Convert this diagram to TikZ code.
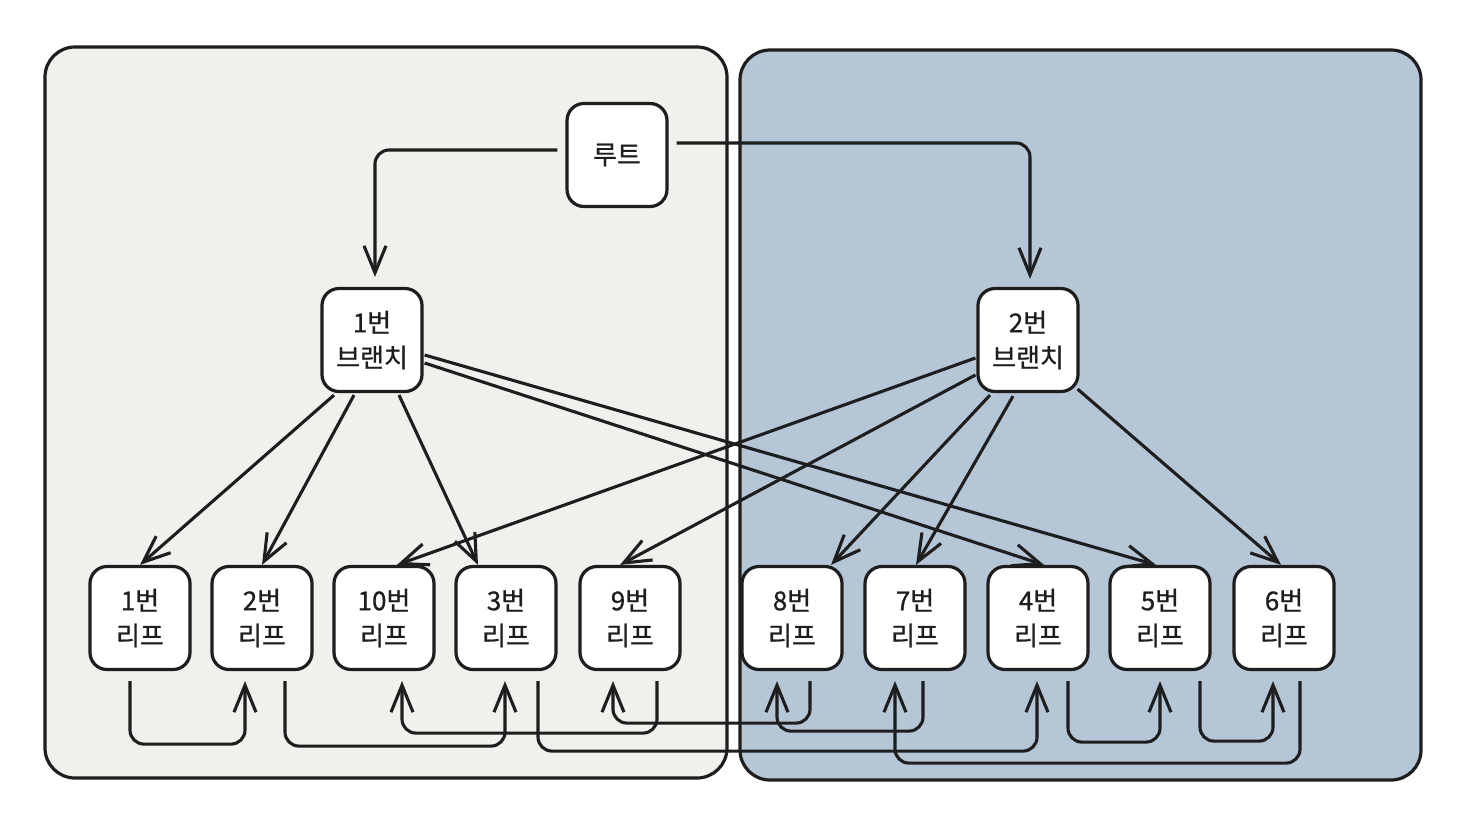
\documentclass[tikz,border=0pt]{standalone}
\usepackage{fontspec}
\setmainfont{Noto Sans CJK KR}[FakeBold=0.8]
\usetikzlibrary{arrows.meta,calc}
\definecolor{ink}{HTML}{1E1E1E}
\definecolor{leftbg}{HTML}{F1F0ED}
\definecolor{rightbg}{HTML}{B5C6D6}
\tikzset{
  panel/.style={draw=ink,line width=3.2pt,rounded corners=30pt},
  box/.style={draw=ink,fill=white,line width=3.2pt,rounded corners=17pt,
    minimum width=100pt,minimum height=103pt,inner sep=0pt,align=center,
    font=\fontsize{26}{35}\selectfont,text=ink},
  link/.style={draw=ink,line width=3.1pt,-{Straight Barb[length=27pt,width=22pt,line width=3.1pt]}},
  rlink/.style={link,rounded corners=14pt},
}
\begin{document}
\begin{tikzpicture}[x=1pt,y=-1pt]
\useasboundingbox (0,0) rectangle (1474,820);
\fill[white] (0,0) rectangle (1474,820);
% panels
\path[panel,fill=leftbg] (45,47) rectangle (727,778);
\path[panel,fill=rightbg] (740,50) rectangle (1421,780);
% nodes
\node[box] (root) at (617,155) {루트};
\node[box] (b1) at (372,340) {1번\\브랜치};
\node[box] (b2) at (1028,340) {2번\\브랜치};
\node[box] (l1) at (140,618) {1번\\리프};
\node[box] (l2) at (262,618) {2번\\리프};
\node[box] (l10) at (384,618) {10번\\리프};
\node[box] (l3) at (506,618) {3번\\리프};
\node[box] (l9) at (630,618) {9번\\리프};
\node[box] (l8) at (792,618) {8번\\리프};
\node[box] (l7) at (915,618) {7번\\리프};
\node[box] (l4) at (1038,618) {4번\\리프};
\node[box] (l5) at (1160,618) {5번\\리프};
\node[box] (l6) at (1284,618) {6번\\리프};
% root to branches
\draw[rlink] ($(root.west)+(-8,-5)$) -| ($(b1.north)+(3,-10)$);
\draw[rlink] ($(root.east)+(8,-12)$) -| ($(b2.north)+(2,-8)$);
% branch 1 edges
\draw[link] ($(b1.south)+(-38,2)$) -- (l1.north);
\draw[link] ($(b1.south)+(-18,2)$) -- (l2.north);
\draw[link] ($(b1.south)+(27,2)$) -- ($(l3.north)+(-28,0)$);
\draw[link] ($(b1.east)+(1,15)$) -- ($(l5.north)+(-4,0)$);
\draw[link] ($(b1.east)+(1,23)$) -- ($(l4.north)+(6,0)$);
% branch 2 edges
\draw[link] ($(b2.west)+(-1,18)$) -- ($(l10.north)+(13,0)$);
\draw[link] ($(b2.west)+(-1,35)$) -- ($(l9.north)+(-10,0)$);
\draw[link] ($(b2.south)+(-38,2)$) -- ($(l8.north)+(39,0)$);
\draw[link] ($(b2.south)+(-15,3)$) -- ($(l7.north)+(1,0)$);
\draw[link] ($(b2.south east)+(-2,-4)$) -- ($(l6.north)+(-3,0)$);
% leaf chain
\draw[rlink] ($(l1.south)+(-10,10)$) -- ++(0,63) -| ($(l2.south)+(-17,10)$);
\draw[rlink] ($(l2.south)+(23,10)$) -- ++(0,65) -| ($(l3.south)+(-1,10)$);
\draw[rlink] ($(l3.south)+(32,10)$) -- ++(0,70) -| ($(l4.south)+(-1,10)$);
\draw[rlink] ($(l4.south)+(30,10)$) -- ++(0,61) -| ($(l5.south)+(0,10)$);
\draw[rlink] ($(l5.south)+(40,10)$) -- ++(0,60) -| ($(l6.south)+(-11,10)$);
\draw[rlink] ($(l6.south)+(16,10)$) -- ++(0,82) -| ($(l7.south)+(-20,10)$);
\draw[rlink] ($(l7.south)+(8,10)$) -- ++(0,50) -| ($(l8.south)+(-15,10)$);
\draw[rlink] ($(l8.south)+(18,10)$) -- ++(0,42) -| ($(l9.south)+(-17,10)$);
\draw[rlink] ($(l9.south)+(27,10)$) -- ++(0,52) -| ($(l10.south)+(18,10)$);
\end{tikzpicture}
\end{document}
